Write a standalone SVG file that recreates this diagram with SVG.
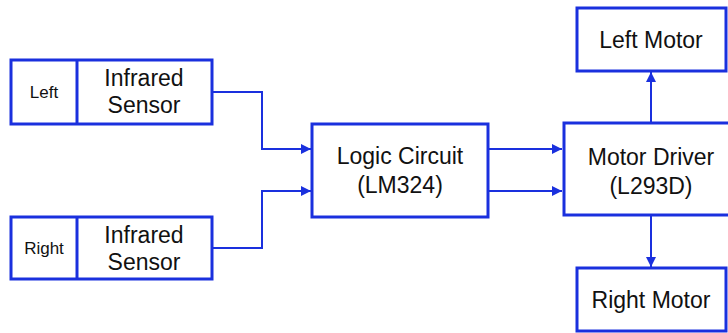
<svg xmlns="http://www.w3.org/2000/svg" width="728" height="333" viewBox="0 0 728 333">
<style>
.box{fill:#fff;stroke:#1a30de;stroke-width:3}
.con{fill:none;stroke:#1a30de;stroke-width:2}
text{font-family:"Liberation Sans",Arial,sans-serif;fill:#111;text-anchor:middle}
.big{font-size:23px}
.small{font-size:17px}
</style>
<defs>
<marker id="ah" viewBox="0 0 10 10" refX="10" refY="5" markerWidth="5" markerHeight="5" orient="auto" markerUnits="strokeWidth">
<path d="M0,0 L10,5 L0,10 z" fill="#1a30de"/>
</marker>
</defs>
<g id="connectors">
<path class="con" d="M212,92 H262 V149 H311" marker-end="url(#ah)"/>
<path class="con" d="M212,248 H262 V191 H311" marker-end="url(#ah)"/>
<path class="con" d="M488,149 H562" marker-end="url(#ah)"/>
<path class="con" d="M488,191 H562" marker-end="url(#ah)"/>
<path class="con" d="M651,123 V72" marker-end="url(#ah)"/>
<path class="con" d="M651,215 V267" marker-end="url(#ah)"/>
</g>
<g id="left-sensor">
<rect class="box" x="11" y="60" width="201" height="64"/>
<line class="box" x1="77" y1="60" x2="77" y2="124"/>
<text class="small" x="44" y="98">Left</text>
<text class="big" x="144" y="86">Infrared</text>
<text class="big" x="144" y="113">Sensor</text>
</g>
<g id="right-sensor">
<rect class="box" x="11" y="217" width="201" height="62"/>
<line class="box" x1="77" y1="217" x2="77" y2="279"/>
<text class="small" x="44" y="254">Right</text>
<text class="big" x="144" y="243">Infrared</text>
<text class="big" x="144" y="270">Sensor</text>
</g>
<g id="logic-circuit">
<rect class="box" x="312" y="124" width="176" height="93"/>
<text class="big" x="400" y="164">Logic Circuit</text>
<text class="big" x="400" y="193">(LM324)</text>
</g>
<g id="motor-driver">
<rect class="box" x="564" y="123" width="170" height="92"/>
<text class="big" x="651" y="165">Motor Driver</text>
<text class="big" x="651" y="194">(L293D)</text>
</g>
<g id="left-motor">
<rect class="box" x="577" y="8" width="149" height="63"/>
<text class="big" x="651" y="48">Left Motor</text>
</g>
<g id="right-motor">
<rect class="box" x="577" y="268" width="149" height="63"/>
<text class="big" x="651" y="308">Right Motor</text>
</g>
</svg>
